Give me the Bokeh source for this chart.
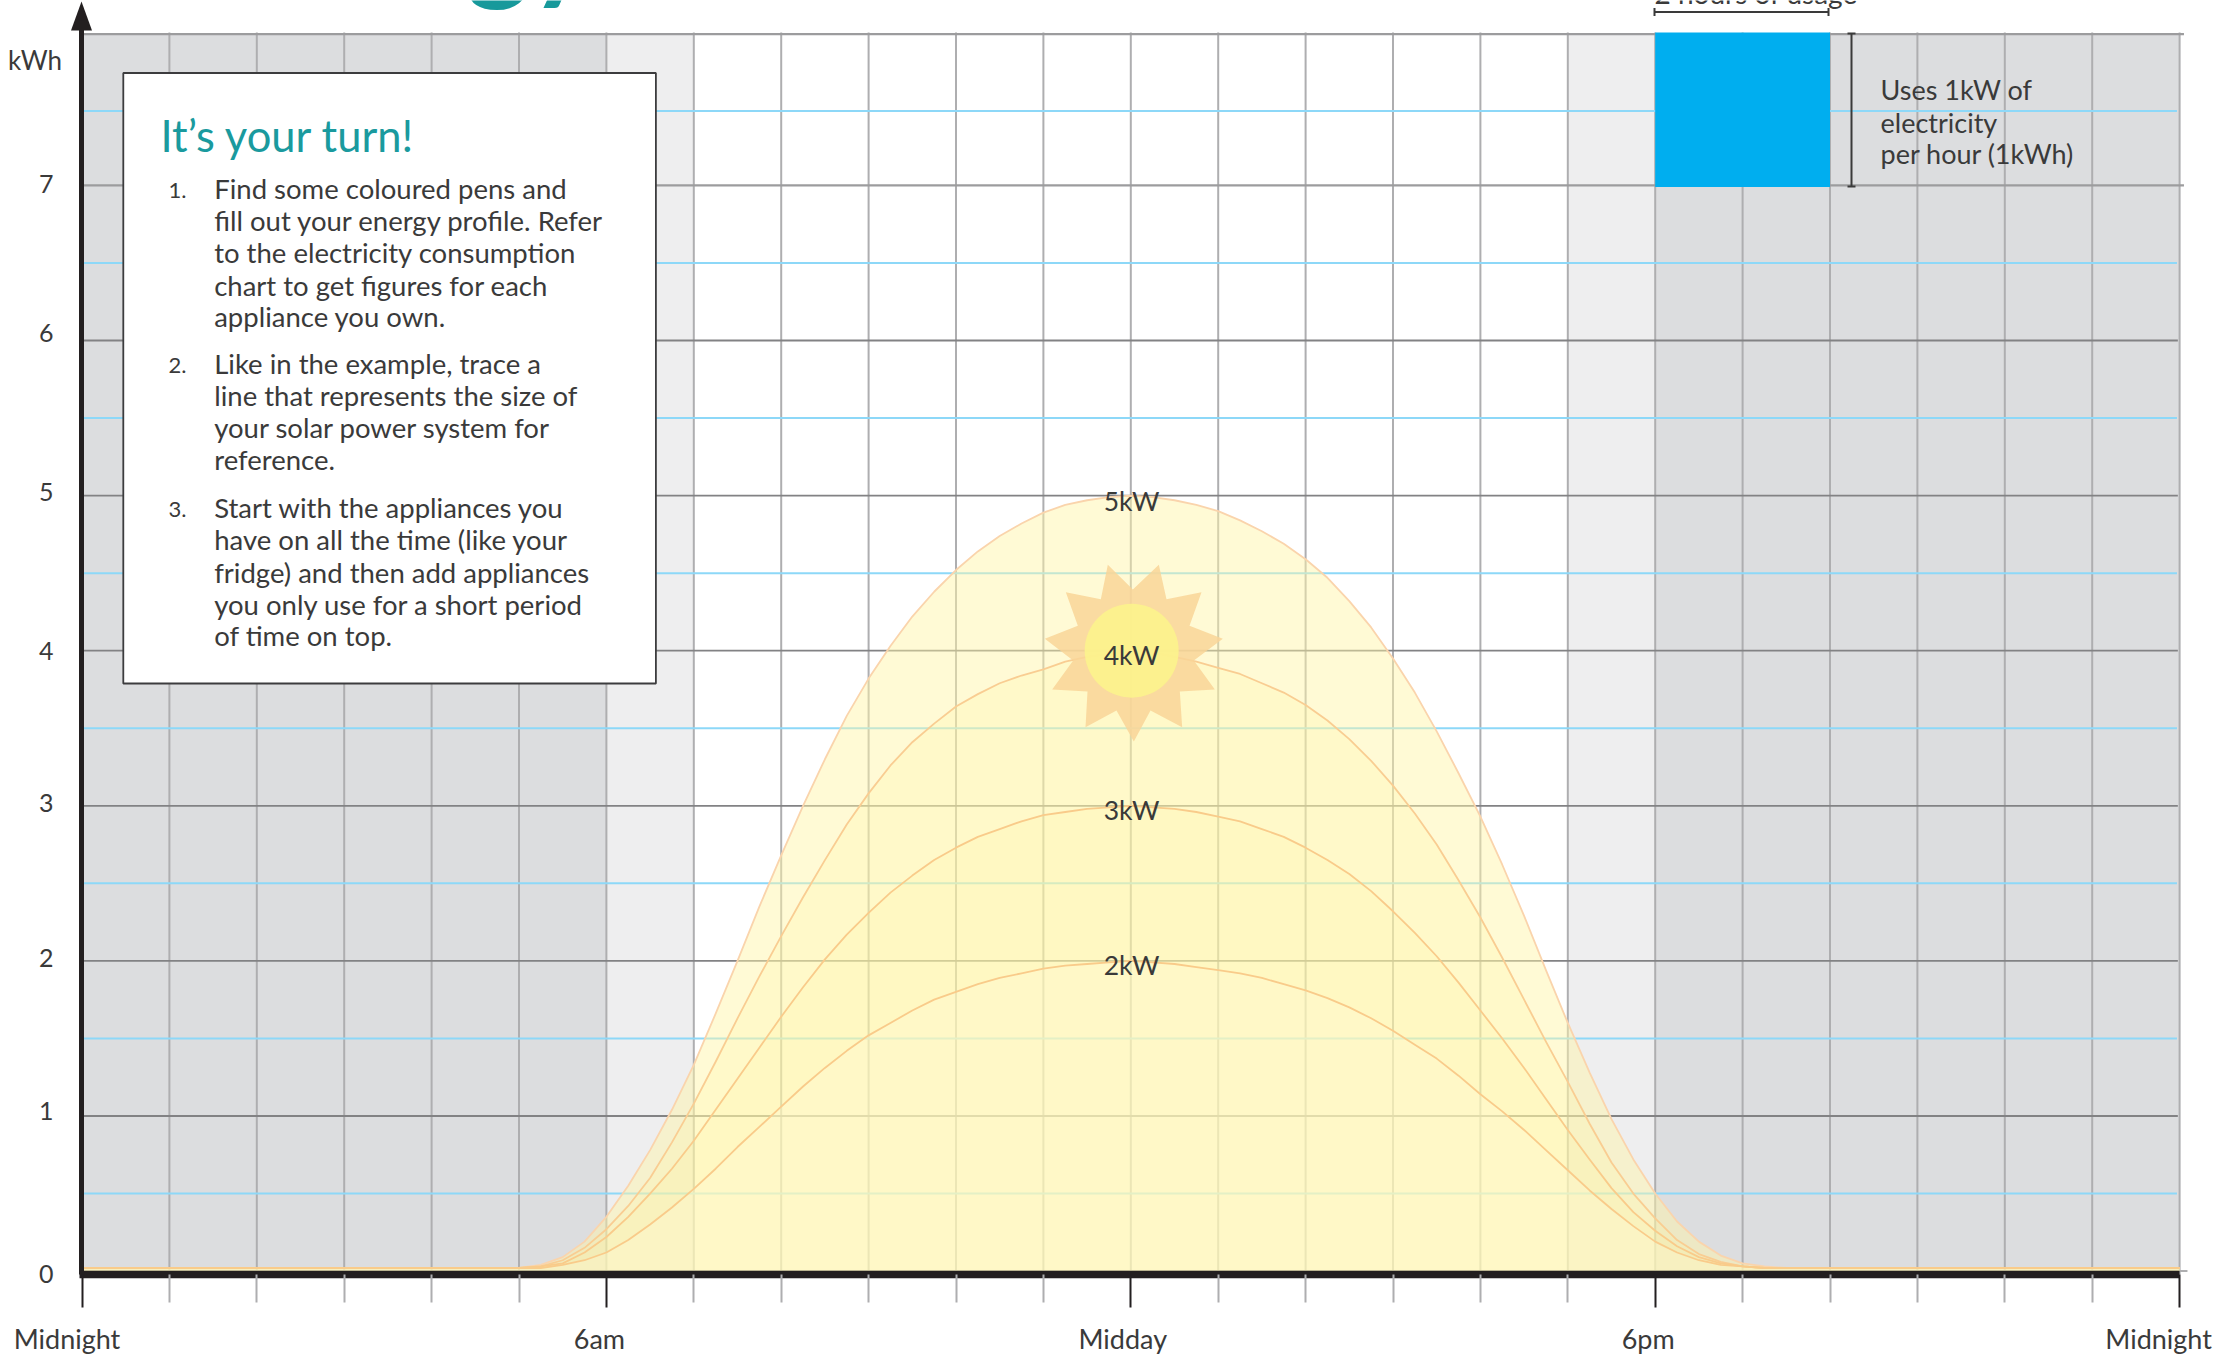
from bokeh.embed import file_html
from bokeh.resources import INLINE
from bokeh.plotting import figure
from bokeh.models import FixedTicker, LinearAxis, Range1d
from bokeh.core.properties import value

HOURS_MAJOR = [0, 6, 12, 18, 24]
HOURS_MINOR = [h for h in range(25) if h % 6]
HOURS_ALL = list(range(25))
HOUR_LABELS = ["Midnight", "6am", "Midday", "6pm", "Midnight"]
HOUR_LABEL_SHIFT = [-15, -7, -8, -7, -21]
KWH_DARK = [1, 2, 3, 4, 5, 6]
KWH_LIGHT = [7, 7.975]
KWH_HALF = [0.5, 1.5, 2.5, 3.5, 4.5, 5.5, 6.5, 7.48]
KWH_LABEL_POS = [-0.02, 1.03, 2.02, 3.02, 4.0, 5.02, 6.05, 7.01]
KWH_LABELS = ["0", "1", "2", "3", "4", "5", "6", "7"]

CURVE_H = [0, 5, 5.25, 5.5, 5.75, 6, 6.25, 6.5, 6.75, 7, 7.25, 7.5, 7.75, 8, 8.25, 8.5, 8.75, 9, 9.25, 9.5, 9.75,
           10, 10.25, 10.5, 10.75, 11, 11.25, 11.5, 11.75, 12, 12.25, 12.5, 12.75, 13, 13.25, 13.5, 13.75,
           14, 14.25, 14.5, 14.75, 15, 15.25, 15.5, 15.75, 16, 16.25, 16.5, 16.75, 17, 17.25, 17.5, 17.75,
           18, 18.25, 18.5, 18.75, 19, 19.25, 19.5, 24]
KW5 = [.02, .02, .04, .09, .19, .35, .55, .78, 1.04, 1.33, 1.66, 2.0, 2.35, 2.68, 3.0, 3.3, 3.58, 3.82, 4.03, 4.22, 4.38,
       4.52, 4.64, 4.74, 4.82, 4.89, 4.94, 4.97, 4.99, 5, 4.99, 4.97, 4.94, 4.90, 4.84, 4.77, 4.69,
       4.59, 4.47, 4.32, 4.15, 3.95, 3.73, 3.48, 3.21, 2.93, 2.62, 2.29, 1.94, 1.6, 1.28, .98, .72,
       .5, .32, .19, .1, .05, .03, .02, .02]
KW4 = [.02, .02, .03, .07, .15, .27, .42, .6, .83, 1.08, 1.35, 1.63, 1.9, 2.16, 2.41, 2.65, 2.88, 3.08, 3.26, 3.41, 3.53,
       3.64, 3.72, 3.79, 3.84, 3.88, 3.93, 3.96, 3.98, 4, 3.99, 3.96, 3.93, 3.89, 3.85, 3.79, 3.73,
       3.65, 3.55, 3.43, 3.29, 3.13, 2.95, 2.75, 2.52, 2.28, 2.02, 1.75, 1.48, 1.22, .95, .70, .5,
       .34, .2, .11, .06, .03, .02, .02, .02]
KW3 = [.02, .02, .03, .05, .12, .22, .35, .5, .66, .84, 1.04, 1.24, 1.44, 1.64, 1.83, 2.01, 2.17, 2.31, 2.44, 2.55, 2.65,
       2.73, 2.8, 2.85, 2.9, 2.94, 2.96, 2.98, 2.99, 3, 2.99, 2.98, 2.96, 2.93, 2.9, 2.85, 2.8,
       2.73, 2.65, 2.56, 2.45, 2.32, 2.18, 2.03, 1.86, 1.68, 1.5, 1.31, 1.11, .91, .72, .535, .38,
       .26, .16, .09, .05, .03, .02, .02, .02]
KW2 = [.02, .02, .02, .04, .07, .12, .2, .3, .41, .53, .66, .8, .93, 1.06, 1.19, 1.31, 1.42, 1.52, 1.6, 1.68, 1.75,
       1.8, 1.85, 1.89, 1.92, 1.95, 1.97, 1.98, 1.99, 2, 1.99, 1.98, 1.96, 1.94, 1.92, 1.89, 1.85,
       1.81, 1.76, 1.70, 1.63, 1.55, 1.46, 1.37, 1.26, 1.14, 1.03, .91, .78, .65, .52, .40, .29,
       .19, .12, .07, .04, .03, .02, .02, .02]
SYSTEMS = [("5kW", KW5, "#fff5a7", .48, "#fad4ac"), ("4kW", KW4, "#fff6a0", .22, "#f9cd92"),
           ("3kW", KW3, "#fff79a", .14, "#f9cb8a"), ("2kW", KW2, "#fffad0", .35, "#f9cb8a")]

STAR_PX = [(322, 253), (397, 327), (475, 253), (498, 356), (603, 335), (567, 436), (667, 475), (580, 540),
           (643, 627), (538, 633), (545, 740), (450, 690), (400, 783), (348, 690), (255, 740), (261, 633),
           (155, 627), (218, 540), (133, 475), (232, 436), (196, 335), (301, 356)]

X0, XU, Y0, YU = 81.5, 87.4, 1270.6, 155.1
def X(px): return (px - X0) / XU
def Y(py): return (Y0 - py) / YU

FONT = "Lato"
INK = "#3a3a3a"
AXIS = "#231f20"
W, H = 2220, 1357
TOP, BOT = 32, 1274

p = figure(width=W, height=H, output_backend="svg", toolbar_location=None,
           x_range=Range1d(X(0), X(W)), y_range=Range1d(Y(H), Y(0)),
           x_axis_type=None, y_axis_type=None, min_border=0,
           outline_line_color=None, background_fill_color="white")

# bands
for l, r, c in [(0, 6, "#dcdddf"), (18, 24, "#dcdddf"), (6, 7, "#eeeeef"), (17, 18, "#eeeeef")]:
    p.quad(left=l, right=r, bottom=0, top=KWH_LIGHT[1], fill_color=c, line_color=None, level="image")

# grid
def hl(ys, x1, color, w):
    p.segment(x0=[0] * len(ys), x1=[x1] * len(ys), y0=ys, y1=ys, line_color=color, line_width=w, level="underlay")
p.segment(x0=HOURS_ALL, x1=HOURS_ALL, y0=[Y(BOT)] * 25, y1=[Y(TOP)] * 25, line_color="#aeaeb0", line_width=2,
          level="underlay")
hl([0], 24.09, "#aeaeb0", 2)
hl(KWH_DARK, 23.98, "#828284", 1.8)
hl(KWH_LIGHT, 24.05, "#9c9c9e", 2.2)
hl(KWH_HALF, 23.97, "#8dd8f8", 2)

# solar curves
for name, vals, fill, a, stroke in SYSTEMS:
    p.varea(x=CURVE_H, y1=[0] * len(vals), y2=vals, fill_color=fill, fill_alpha=a)
for name, vals, fill, a, stroke in SYSTEMS:
    p.line(x=CURVE_H, y=vals, line_color=stroke, line_width=1.8, line_join="round")

# sun
p.patch(x=[X(1000 + a / 3) for a, b in STAR_PX], y=[Y(480 + b / 3) for a, b in STAR_PX],
        fill_color="#f9d598", fill_alpha=.85, line_color=None)
p.scatter(x=[12.01], y=[4.0], size=94, marker="circle", fill_color="#fcf38c", fill_alpha=.9, line_color=None)

# 2-hour usage block
p.quad(left=[18], right=[20], bottom=[6.99], top=[7.986], fill_color="#00aeef", line_color=None)

# instruction panel
p.quad(left=[X(122.8)], right=[X(655.4)], top=[Y(72.5)], bottom=[Y(683)], fill_color="white",
       line_color="#3c3c3e", line_width=1.8)

# axes
xa = LinearAxis(fixed_location=Y(BOT))
xa.ticker = FixedTicker(ticks=HOURS_MAJOR, minor_ticks=HOURS_MINOR)
xa.major_label_text_font_size = "0px"
xa.major_label_overrides = {h: "" for h in HOURS_MAJOR}
xa.axis_line_color = AXIS; xa.axis_line_width = 7.7; xa.bounds = (-0.03, 24)
xa.major_tick_in = 0; xa.major_tick_out = 33; xa.major_tick_line_color = AXIS; xa.major_tick_line_width = 2
xa.minor_tick_in = 0; xa.minor_tick_out = 28; xa.minor_tick_line_color = "#aeaeb0"; xa.minor_tick_line_width = 2
p.add_layout(xa, "below")

LABEL_POS = [h + s / XU for h, s in zip(HOURS_MAJOR, HOUR_LABEL_SHIFT)]
xl = LinearAxis(fixed_location=Y(BOT), ticker=FixedTicker(ticks=LABEL_POS),
                major_label_overrides=dict(zip(LABEL_POS, HOUR_LABELS)))
xl.axis_line_color = None; xl.major_tick_line_color = None; xl.minor_tick_line_color = None
xl.major_tick_in = 0; xl.major_tick_out = 0
xl.major_label_standoff = 47; xl.major_label_text_font = FONT; xl.major_label_text_font_size = "27px"
xl.major_label_text_color = INK
p.add_layout(xl, "below")

ya = LinearAxis(fixed_location=X(81), ticker=FixedTicker(ticks=KWH_LABEL_POS),
                major_label_overrides=dict(zip(KWH_LABEL_POS, KWH_LABELS)))
ya.axis_line_color = AXIS; ya.axis_line_width = 5; ya.bounds = (Y(BOT), Y(20))
ya.major_tick_in = 0; ya.major_tick_out = 0; ya.major_tick_line_color = None; ya.minor_tick_line_color = None
ya.major_label_standoff = 28; ya.major_label_text_font = FONT; ya.major_label_text_font_size = "25px"
ya.major_label_text_color = INK
p.add_layout(ya, "left")

# arrow head
p.patch(x=[X(81), X(70.5), X(91.5)], y=[Y(1), Y(30), Y(30)], fill_color=AXIS, line_color=None)

SHIFT = 0.37  # the svg text sits this many ems below the anchor
def text(s, px, py, size=27, color=INK, align="left", style="normal"):
    anchor = max(py, 5)
    p.text(x=[X(px)], y=[Y(anchor)], text=[s], text_font=value(FONT), text_font_size=value(f"{size}px"),
           text_font_style=style, text_color=color, text_align=align, text_baseline="alphabetic",
           y_offset=py - anchor - SHIFT * size)

text("kWh", 34.6, 69, size=26, align="center")

for name, py in zip(["5kW", "4kW", "3kW", "2kW"], [510, 664, 819, 974]):
    text(name, 1131, py, size=26.5, align="center")

text("It\u2019s your turn!", 160, 150.6, size=43.5, color="#1a9a9e")
ITEMS = [("1.", ["Find some coloured pens and", "fill out your energy profile. Refer", "to the electricity consumption",
                 "chart to get figures for each", "appliance you own."], [198.3, 230.5, 262.6, 294.8, 326.4]),
         ("2.", ["Like in the example, trace a", "line that represents the size of", "your solar power system for",
                 "reference."], [373.3, 405.4, 437.6, 469.2]),
         ("3.", ["Start with the appliances you", "have on all the time (like your", "fridge) and then add appliances",
                 "you only use for a short period", "of time on top."], [517.4, 549.6, 581.7, 613.9, 645.5])]
for num, lines, ys in ITEMS:
    text(num, 168, ys[0], size=22)
    for s, yy in zip(lines, ys):
        text(s, 213.7, yy, size=27.5)

text("Uses 1kW of", 1880, 99)
text("electricity", 1880, 131.7)
text("per hour (1kWh)", 1880, 163)
text("2 hours of usage", 1654, 3, size=28)
text("gy", 466, -14, size=120, color="#17999b", style="bold")

# brackets
BX0 = [1654, 1654, 1828, 1851, 1847, 1847]
BX1 = [1828, 1654, 1828, 1851, 1855, 1855]
BY0 = [11.5, 7.5, 7.5, 33, 33, 186]
BY1 = [11.5, 15.5, 15.5, 186, 33, 186]
p.segment(x0=[X(v) for v in BX0], x1=[X(v) for v in BX1], y0=[Y(v) for v in BY0], y1=[Y(v) for v in BY1],
          line_color=INK, line_width=2)

open("out.html", "w").write(file_html(p, INLINE))
